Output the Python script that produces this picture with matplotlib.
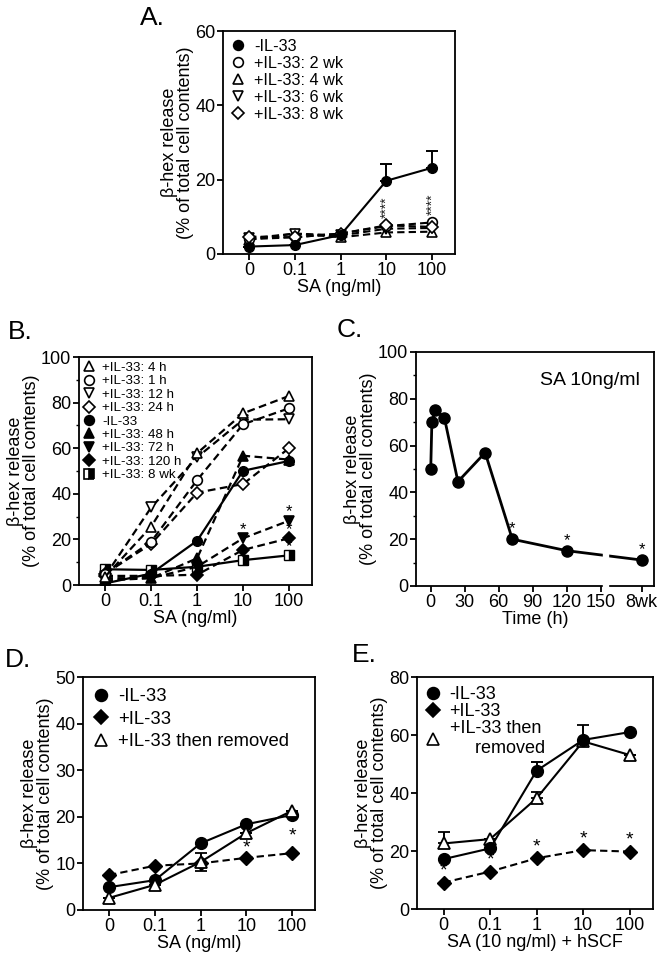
import matplotlib
matplotlib.use('Agg')
import matplotlib.pyplot as plt
from matplotlib.lines import Line2D

plt.rcParams['font.family'] = ['Liberation Sans', 'DejaVu Sans']
plt.rcParams['axes.linewidth'] = 1.3

dose_labels = ['0', '0.1', '1', '10', '100']
dose_pos = [0, 1, 2, 3, 4]

# Panel A
a_minus = [2.0, 2.4, 5.1, 19.7, 23.2]
a_minus_err = [0, 0, 0, 4.4, 4.6]
a_2wk = [4.0, 4.5, 5.5, 7.5, 8.5]
a_4wk = [3.8, 5.5, 4.5, 5.8, 6.0]
a_6wk = [4.2, 5.5, 5.0, 6.8, 7.0]
a_8wk = [4.7, 4.5, 5.5, 7.7, 7.3]

# Panel B
b_4h = [3.7, 25.6, 57.8, 75.3, 82.9]
b_1h = [5.0, 19.0, 46.0, 70.5, 77.5]
b_12h = [4.0, 34.0, 56.0, 72.5, 72.7]
b_24h = [5.0, 18.0, 40.5, 44.3, 60.0]
b_minus = [0.7, 5.0, 19.4, 50.1, 54.4]
b_48h = [2.0, 3.0, 11.7, 56.7, 55.0]
b_72h = [3.0, 3.0, 8.0, 20.5, 28.2]
b_120h = [4.0, 4.0, 4.5, 15.4, 20.5]
b_8wk = [6.9, 6.6, 8.0, 10.9, 13.0]

# Panel C
c_hours = [0, 1, 4, 12, 24, 48, 72, 120]
c_8wk_pos = 186
c_vals = [50, 70, 75.2, 72, 44.6, 57, 20, 15.1, 11.1]
c_tick_labels = ['0', '30', '60', '90', '120', '150', '8wk']

# Panel D
d_minus = [4.9, 6.4, 14.3, 18.4, 20.4]
d_plus = [7.5, 9.5, 10.0, 11.2, 12.2]
d_removed = [2.6, 5.4, 10.3, 16.5, 21.3]
d_removed_err = [0, 0, 1.9, 0, 0]

# Panel E
e_minus = [17.2, 20.9, 47.7, 58.3, 61.0]
e_minus_err = [0, 0, 2.9, 0, 0]
e_plus = [9.1, 12.9, 17.5, 20.3, 19.8]
e_removed = [22.6, 24.1, 38.2, 57.8, 53.1]
e_removed_err = [4.1, 0, 2.3, 5.6, 0]

W, H = 664, 966
FS = 13
fig = plt.figure(figsize=(W / 100, H / 100), dpi=100)


def make_ax(l, r, t, b):
    return fig.add_axes([l / W, 1 - b / H, (r - l) / W, (b - t) / H])


def style(ax, ylim, yticks, minor=None):
    ax.set_ylim(*ylim)
    ax.set_yticks(yticks)
    if minor is not None:
        ax.set_yticks(minor, minor=True)
    ax.tick_params(direction='out', length=4, width=1.3, labelsize=FS, pad=1.5)
    ax.tick_params(which='minor', direction='out', length=2.5, width=1.0)
    ax.set_ylabel('β-hex release\n(% of total cell contents)', fontsize=FS, linespacing=0.9, labelpad=1)


def dose_axis(ax, label='SA (ng/ml)'):
    ax.set_xlim(-0.57, 4.5)
    ax.set_xticks(dose_pos)
    ax.set_xticklabels(dose_labels)
    ax.set_xlabel(label, fontsize=FS, labelpad=0)


def star(ax, x, y, off=2, size=12):
    ax.annotate('*', (x, y), xytext=(0, off), textcoords='offset points',
                ha='center', va='bottom', fontsize=size)


def mk(marker, face, size=7, **kw):
    return Line2D([], [], marker=marker, linestyle='none', color='black',
                  markerfacecolor=face, markeredgecolor='black', markersize=size,
                  markeredgewidth=1.2, **kw)


# ---------- A ----------
ax = make_ax(223, 455, 31, 254)
kw = dict(color='black', lw=1.5, ms=7, mec='black', mew=1.2, dashes=(3.5, 2))
ax.plot(dose_pos, a_4wk, ls='--', marker='^', mfc='white', **kw)
ax.plot(dose_pos, a_6wk, ls='--', marker='v', mfc='white', **kw)
ax.plot(dose_pos, a_2wk, ls='--', marker='o', mfc='white', **kw)
ax.plot(dose_pos, a_8wk, ls='--', marker='D', mfc='white', **{**kw, 'ms': 6.5})
ax.errorbar(dose_pos, a_minus, yerr=[[0] * 5, a_minus_err], fmt='-o', color='black',
            lw=1.5, ms=7, capsize=4, capthick=1.4, elinewidth=1.4)
for i in (3, 4):
    ax.annotate('****', (dose_pos[i], max(a_2wk[i], a_8wk[i])), xytext=(0, 5),
                textcoords='offset points', rotation=90, ha='center', va='bottom',
                fontsize=10, color='#222222')
style(ax, (0, 60), [0, 20, 40, 60])
dose_axis(ax)
ax.legend([mk('o', 'black'), mk('o', 'white'), mk('^', 'white'), mk('v', 'white'), mk('D', 'white', 6.5)],
          ['-IL-33', '+IL-33: 2 wk', '+IL-33: 4 wk', '+IL-33: 6 wk', '+IL-33: 8 wk'],
          loc='upper left', frameon=False, fontsize=11.7, handlelength=0.8, handletextpad=0.6,
          labelspacing=0.12, borderaxespad=0.2, borderpad=0.3)
fig.text(140 / W, 1 - 18 / H, 'A.', fontsize=19, va='center')

# ---------- B ----------
ax = make_ax(79, 312, 357, 585)
dkw = dict(color='black', lw=1.6, ms=7, mec='black', mew=1.2, ls='--', dashes=(3.5, 2))
ax.plot(dose_pos, b_8wk, marker='s', mfc='black', mfcalt='white', fillstyle='right',
        color='black', lw=1.6, ms=7, mec='black', ls='-')
ax.plot(dose_pos, b_120h, marker='D', mfc='black', **{**dkw, 'ms': 6.5})
ax.plot(dose_pos, b_72h, marker='v', mfc='black', **dkw)
ax.plot(dose_pos, b_48h, marker='^', mfc='black', **dkw)
ax.plot(dose_pos, b_minus, marker='o', mfc='black', color='black', lw=1.6, ms=7, ls='-')
ax.plot(dose_pos, b_24h, marker='D', mfc='white', **{**dkw, 'ms': 6.5})
ax.plot(dose_pos, b_12h, marker='v', mfc='white', **dkw)
ax.plot(dose_pos, b_1h, marker='o', mfc='white', **dkw)
ax.plot(dose_pos, b_4h, marker='^', mfc='white', **dkw)
star(ax, 3, b_72h[3], off=1)
star(ax, 4, b_72h[4], off=1)
star(ax, 4, b_120h[4], off=1)
star(ax, 4, b_8wk[4], off=1)
style(ax, (0, 100), [0, 20, 40, 60, 80, 100], minor=list(range(10, 100, 20)))
dose_axis(ax)
ax.legend([mk('^', 'white'), mk('o', 'white'), mk('v', 'white'), mk('D', 'white', 6.5),
           mk('o', 'black'), mk('^', 'black'), mk('v', 'black'), mk('D', 'black', 6.5),
           mk('s', 'black', fillstyle='right', markerfacecoloralt='white')],
          ['+IL-33: 4 h', '+IL-33: 1 h', '+IL-33: 12 h', '+IL-33: 24 h', '-IL-33',
           '+IL-33: 48 h', '+IL-33: 72 h', '+IL-33: 120 h', '+IL-33: 8 wk'],
          loc='upper left', frameon=False, fontsize=9.6, handlelength=0.8, handletextpad=0.6,
          labelspacing=0.08, borderaxespad=0.15, borderpad=0.2)
fig.text(8 / W, 1 - 332 / H, 'B.', fontsize=19, va='center')

# ---------- C ----------
ax = make_ax(416, 654, 352, 586)
c_x = c_hours + [c_8wk_pos]
ax.plot(c_x, c_vals, '-o', color='black', lw=2, ms=8)
for i in (6, 7, 8):
    star(ax, c_x[i], c_vals[i], off=2)
ax.set_xlim(-13, 197)
ax.set_xticks([0, 30, 60, 90, 120, 150, c_8wk_pos])
ax.set_xticklabels(c_tick_labels)
ax.set_xlabel('Time (h)', fontsize=FS, labelpad=0)
style(ax, (0, 100), [0, 20, 40, 60, 80, 100], minor=list(range(10, 100, 20)))
ax.axvspan(152, 156.5, ymin=-0.02, ymax=0.5, color='white', zorder=2.6, clip_on=False)
ax.text(0.94, 0.88, 'SA 10ng/ml', transform=ax.transAxes, ha='right', va='center', fontsize=14)
fig.text(337 / W, 1 - 330 / H, 'C.', fontsize=19, va='center')

# ---------- D ----------
ax = make_ax(83, 315, 677, 910)
ax.plot(dose_pos, d_plus, '--D', color='black', lw=1.5, ms=7.5, dashes=(3.5, 2))
ax.errorbar(dose_pos, d_removed, yerr=d_removed_err, fmt='-^', color='black', mfc='white',
            lw=1.5, ms=8.5, mew=1.3, capsize=4, capthick=1.4, elinewidth=1.4)
ax.plot(dose_pos, d_minus, '-o', color='black', lw=1.5, ms=8.5)
star(ax, 3, d_plus[3], off=1, size=14)
star(ax, 4, d_plus[4], off=6, size=14)
style(ax, (0, 50), [0, 10, 20, 30, 40, 50])
dose_axis(ax)
ax.legend([mk('o', 'black', 8.5), mk('D', 'black', 7.5), mk('^', 'white', 8.5)],
          ['-IL-33', '+IL-33', '+IL-33 then removed'],
          loc='upper left', frameon=False, fontsize=13.3, handlelength=0.8, handletextpad=0.5,
          labelspacing=0.3, borderaxespad=0.3, borderpad=0.3)
fig.text(5 / W, 1 - 660 / H, 'D.', fontsize=19, va='center')

# ---------- E ----------
ax = make_ax(417, 653, 677, 909)
ax.plot(dose_pos, e_plus, '--D', color='black', lw=1.5, ms=7.5, dashes=(3.5, 2))
ax.errorbar(dose_pos, e_removed, yerr=[[0] * 5, e_removed_err], fmt='-^', color='black',
            mfc='white', lw=1.5, ms=8.5, mew=1.3, capsize=4, capthick=1.4, elinewidth=1.4)
ax.errorbar(dose_pos, e_minus, yerr=[[0] * 5, e_minus_err], fmt='-o', color='black',
            lw=1.5, ms=8.5, capsize=4, capthick=1.4, elinewidth=1.4)
for i in dose_pos:
    star(ax, i, e_plus[i], off=2, size=14)
style(ax, (0, 80), [0, 20, 40, 60, 80])
dose_axis(ax, 'SA (10 ng/ml) + hSCF')
ax.legend([mk('o', 'black', 8.5), mk('D', 'black', 7.5), mk('^', 'white', 8.5)],
          ['-IL-33', '+IL-33', '+IL-33 then\n     removed'],
          loc='upper left', frameon=False, fontsize=13, handlelength=0.8, handletextpad=0.5,
          labelspacing=0.0, borderaxespad=0.2, borderpad=0.3)
fig.text(352 / W, 1 - 655 / H, 'E.', fontsize=19, va='center')

fig.savefig('out.png', dpi=100)
